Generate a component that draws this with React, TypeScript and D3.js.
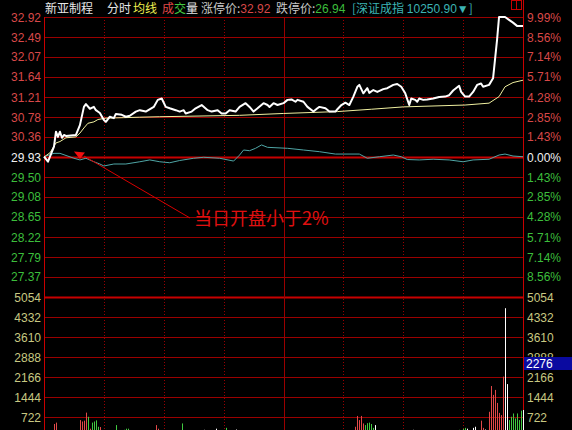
import React from "react";
import * as d3 from "d3";

// Intraday (分时) chart: price, average price, index overlay and volume
const stockName = "新亚制程";
const prevClose = 29.93;
const limitUp = 32.92;
const limitDown = 26.94;
const indexName = "深证成指";
const indexValue = "10250.90";
const volumeReadout = "2276";
const noteText = "当日开盘小于2%";
const noteMinute = 18;

const priceTicks = [32.92, 32.49, 32.07, 31.64, 31.21, 30.78, 30.36, 29.93, 29.5, 29.08, 28.65, 28.22, 27.79, 27.37];
const pctTicks = [9.99, 8.56, 7.14, 5.71, 4.28, 2.85, 1.43, 0, -1.43, -2.85, -4.28, -5.71, -7.14, -8.56];
const volTicks = [5054, 4332, 3610, 2888, 2166, 1444, 722];
const timeGridMinutes = [30, 60, 90, 120, 150, 180, 210];

// price line, minute index from 9:30
const priceMinutes = [0, 2, 5, 6, 7, 8, 9, 10, 11, 16, 18, 20, 21, 23, 25, 26, 28, 30, 31, 33, 35, 36, 39, 41, 43, 46, 48, 51, 55, 57, 59, 61, 63, 66, 68, 70, 71, 74, 76, 79, 82, 84, 87, 89, 91, 93, 96, 98, 101, 103, 105, 107, 110, 112, 113, 115, 117, 120, 122, 124, 126, 127, 130, 132, 135, 137, 138, 141, 143, 146, 147, 149, 151, 153, 155, 157, 158, 160, 162, 163, 165, 167, 170, 172, 175, 177, 179, 181, 183, 184, 186, 187, 188, 190, 192, 195, 198, 201, 203, 205, 208, 209, 211, 213, 215, 217, 219, 220, 223, 225, 227, 228, 231, 233, 235, 237, 240];
const priceValues = [29.94, 29.83, 30.15, 30.47, 30.36, 30.47, 30.34, 30.4, 30.38, 30.4, 30.61, 31.0, 31.06, 30.96, 31.0, 30.93, 30.87, 30.72, 30.68, 30.79, 30.76, 30.85, 30.83, 30.79, 30.81, 30.9, 30.93, 30.9, 31.0, 31.15, 31.18, 31.0, 30.97, 30.93, 30.9, 30.93, 30.86, 30.9, 30.97, 31.04, 30.93, 30.9, 30.93, 30.86, 30.86, 30.93, 30.9, 31.0, 31.08, 31.0, 30.9, 30.97, 31.08, 31.04, 31.0, 31.08, 31.04, 31.08, 31.15, 31.16, 31.11, 31.15, 31.11, 31.0, 30.9, 30.97, 31.0, 30.97, 30.9, 30.9, 30.95, 31.04, 31.09, 31.04, 31.22, 31.43, 31.47, 31.29, 31.4, 31.3, 31.36, 31.32, 31.38, 31.4, 31.47, 31.49, 31.43, 31.29, 31.04, 31.18, 31.15, 31.11, 31.18, 31.15, 31.16, 31.18, 31.21, 31.22, 31.25, 31.35, 31.45, 31.32, 31.22, 31.22, 31.32, 31.47, 31.5, 31.43, 31.47, 31.61, 32.43, 32.92, 32.92, 32.86, 32.8, 32.73, 32.73];

// average price line
const avgMinutes = [0, 3, 6, 8, 11, 16, 18, 20, 22, 25, 27, 31, 40, 48, 58, 98, 120, 147, 164, 180, 211, 223, 228, 231, 235, 240];
const avgValues = [29.93, 30.02, 30.23, 30.26, 30.34, 30.36, 30.44, 30.55, 30.65, 30.68, 30.73, 30.76, 30.77, 30.78, 30.79, 30.82, 30.86, 30.9, 30.95, 31.0, 31.04, 31.08, 31.22, 31.43, 31.52, 31.57];

// index change in percent
const indexMinutes = [0, 5, 8, 15, 18, 21, 25, 28, 30, 35, 41, 48, 53, 58, 63, 68, 75, 80, 88, 95, 98, 100, 103, 106, 109, 112, 122, 130, 138, 146, 158, 162, 168, 175, 179, 182, 188, 195, 203, 210, 215, 223, 228, 231, 235, 240];
const indexPct = [0.02, 0.26, 0.26, -0.09, -0.21, -0.09, -0.34, -0.5, -0.64, -0.5, -0.5, -0.34, -0.21, -0.34, -0.41, -0.25, -0.09, -0.02, -0.09, -0.29, 0.14, 0.5, 0.45, 0.62, 0.86, 0.69, 0.62, 0.5, 0.38, 0.21, 0.21, -0.09, 0.02, 0.14, 0.02, -0.18, -0.21, -0.16, -0.21, -0.34, -0.21, -0.16, 0.14, 0.21, 0.07, 0.02];

// volume bars: minute, shares (hands), direction
const volMinutes = [5, 6, 18, 19, 20, 21, 22, 23, 24, 25, 26, 27, 28, 35, 36, 40, 41, 42, 56, 57, 59, 69, 80, 86, 91, 96, 156, 157, 158, 159, 160, 161, 162, 163, 164, 165, 166, 175, 185, 208, 210, 211, 212, 215, 216, 219, 220, 221, 222, 223, 224, 225, 226, 227, 228, 229, 230, 231, 232, 233, 234, 235, 236, 237, 238, 239, 240];
const volValues = [470, 520, 610, 560, 590, 880, 730, 300, 520, 560, 600, 370, 360, 250, 430, 260, 300, 300, 430, 300, 250, 490, 260, 300, 330, 270, 370, 760, 610, 760, 490, 430, 500, 520, 470, 330, 430, 230, 260, 260, 300, 330, 300, 330, 370, 590, 330, 270, 230, 910, 1840, 1520, 1700, 1230, 870, 790, 2180, 4650, 1910, 610, 730, 850, 670, 850, 610, 950, 975];
const volDirs = ["u", "u", "u", "u", "u", "u", "d", "u", "d", "d", "d", "d", "u", "d", "d", "d", "d", "d", "u", "u", "f", "d", "f", "f", "d", "f", "u", "u", "u", "u", "u", "d", "d", "d", "d", "d", "f", "u", "f", "d", "d", "d", "f", "f", "f", "u", "u", "f", "u", "u", "u", "u", "u", "u", "u", "u", "u", "f", "f", "d", "d", "d", "d", "d", "d", "d", "f"];

const W = 572;
const H = 430;
const left = 44;
const right = 523;
const priceTop = 17;
const priceBottom = 297;
const volBottom = 437;

const RED = "#d84848";
const GREEN = "#3cbe3c";
const WHITE = "#f0f0f0";
const VOLTXT = "#c8c882";
const GRID = "#9a0000";
const GRID_STRONG = "#c80000";
const FONT = "'Liberation Sans', Arial, sans-serif";
const CJK = "'Noto Sans CJK SC', sans-serif";

export default function App() {
  const x = d3.scaleLinear().domain([0, 240]).range([left, right]);
  const yPrice = d3.scaleLinear().domain([limitDown, limitUp]).range([priceBottom, priceTop]);
  const yPct = d3.scaleLinear().domain([-9.99, 9.99]).range([priceBottom, priceTop]);
  const yVol = d3.scaleLinear().domain([0, 5054]).range([volBottom, priceBottom]);

  const line = d3
    .line<[number, number]>()
    .x((d) => x(d[0]))
    .y((d) => d[1]);

  const pricePath = line(priceMinutes.map((m, i) => [m, yPrice(priceValues[i])]))!;
  const avgPath = line(avgMinutes.map((m, i) => [m, yPrice(avgValues[i])]))!;
  const idxPath = line(indexMinutes.map((m, i) => [m, yPct(indexPct[i])]))!;

  const tickColor = (v: number) => (v > 0 ? RED : v < 0 ? GREEN : WHITE);
  const dirColor = (d: string) => (d === "u" ? "#e04848" : d === "d" ? "#40c840" : "#ffffff");

  const markX = x(noteMinute);
  const markY = yPrice(prevClose);

  return (
    <div style={{ position: "fixed", left: 0, top: 0 }}>
      <svg width={W} height={H} style={{ display: "block", background: "#000" }}>
        <rect x={0} y={0} width={W} height={H} fill="#000" />

        {/* header */}
        <g fontFamily={CJK} fontSize={12}>
          <text x={45} y={13} fill="#e6e6e6">{stockName}</text>
          <text x={107} y={13} fill="#e6e6e6">分时</text>
          <text x={133} y={13} fill="#f0f050">均线</text>
          <text x={162} y={13}>
            <tspan fill="#e04848">成</tspan>
            <tspan fill="#40c840">交</tspan>
            <tspan fill="#e6e6e6">量</tspan>
          </text>
          <text x={201} y={13} fill="#c8c8c8">
            涨停价:<tspan fill={RED} fontFamily={FONT}>{limitUp.toFixed(2)}</tspan>
          </text>
          <text x={276} y={13} fill="#c8c8c8">
            跌停价:<tspan fill={GREEN} fontFamily={FONT}>{limitDown.toFixed(2)}</tspan>
          </text>
          <text x={352} y={13} fill="#3cb4b4">
            [{indexName} <tspan fontFamily={FONT}>{indexValue}▼</tspan>]
          </text>
        </g>
        <rect x={511.5} y={0.5} width={10} height={9} fill="none" stroke={GRID_STRONG} />
        <line x1={516.5} y1={1} x2={516.5} y2={9} stroke={GRID_STRONG} />

        {/* horizontal price grid */}
        {priceTicks.map((t, i) => (
          <line
            key={"pg" + i}
            x1={left}
            x2={right}
            y1={Math.round(yPrice(t)) + 0.5}
            y2={Math.round(yPrice(t)) + 0.5}
            stroke={t === prevClose ? GRID_STRONG : GRID}
            strokeWidth={t === prevClose ? 2 : 1}
          />
        ))}
        {/* horizontal volume grid */}
        {volTicks.map((t, i) => (
          <line
            key={"vg" + i}
            x1={left}
            x2={right}
            y1={Math.round(yVol(t)) + 0.5}
            y2={Math.round(yVol(t)) + 0.5}
            stroke={i === 0 ? GRID_STRONG : GRID}
            strokeWidth={i === 0 ? 2 : 1}
          />
        ))}
        {/* vertical time grid */}
        {timeGridMinutes.map((m) => (
          <line
            key={"tg" + m}
            x1={Math.round(x(m)) + 0.5}
            x2={Math.round(x(m)) + 0.5}
            y1={priceTop}
            y2={H}
            stroke={GRID}
            strokeDasharray={m === 120 ? undefined : "1,2"}
          />
        ))}
        <line x1={left + 0.5} x2={left + 0.5} y1={priceTop} y2={H} stroke={GRID_STRONG} />
        <line x1={right + 0.5} x2={right + 0.5} y1={0} y2={H} stroke={GRID_STRONG} />

        {/* left price labels */}
        <g fontFamily={FONT} fontSize={12} textAnchor="end">
          {priceTicks.map((t, i) => (
            <text key={"pl" + i} x={41} y={yPrice(t) + 4.5} fill={tickColor(t - prevClose)}>
              {t.toFixed(2)}
            </text>
          ))}
          {volTicks.map((t, i) => (
            <text key={"vl" + i} x={41} y={yVol(t) + 4.5} fill={VOLTXT}>
              {t}
            </text>
          ))}
        </g>
        {/* right percent labels */}
        <g fontFamily={FONT} fontSize={12}>
          {pctTicks.map((t, i) => (
            <text key={"rl" + i} x={527} y={yPct(t) + 4.5} fill={tickColor(t)}>
              {Math.abs(t).toFixed(2)}%
            </text>
          ))}
          {volTicks.map((t, i) => (
            <text key={"rv" + i} x={527} y={yVol(t) + 4.5} fill={VOLTXT}>
              {t}
            </text>
          ))}
        </g>

        {/* volume bars */}
        {volMinutes.map((m, i) => (
          <line
            key={"vb" + i}
            x1={Math.round(x(m)) + 0.5}
            x2={Math.round(x(m)) + 0.5}
            y1={volBottom}
            y2={yVol(volValues[i])}
            stroke={dirColor(volDirs[i])}
            strokeWidth={1}
          />
        ))}

        {/* index overlay, average and price */}
        <path d={idxPath} fill="none" stroke="#4fa6a6" strokeWidth={1} />
        <path d={avgPath} fill="none" stroke="#f0f0a0" strokeWidth={1} />
        <path d={pricePath} fill="none" stroke="#ffffff" strokeWidth={2} strokeLinejoin="round" />

        {/* volume readout */}
        <rect x={524} y={357} width={48} height={13} fill="#0a0aa0" />
        <text x={526} y={368} fill="#ffffff" fontFamily={FONT} fontSize={12}>{volumeReadout}</text>

        {/* opening note */}
        <line x1={markX + 4} y1={markY - 1} x2={190} y2={218} stroke="#d80000" strokeWidth={1} />
        <path
          d={`M${markX - 6},${markY - 5.5} L${markX + 5},${markY - 4.5} L${markX},${markY + 2} Z`}
          fill="#f01010"
        />
        <text x={194} y={225} fill="#e01010" fontFamily={CJK} fontSize={18}>
          {noteText}
        </text>
      </svg>
    </div>
  );
}
